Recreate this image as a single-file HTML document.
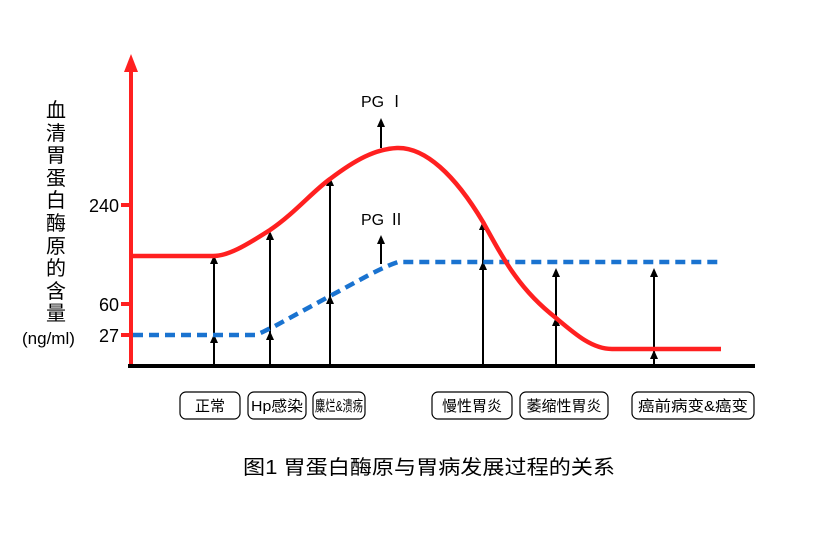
<!DOCTYPE html>
<html><head><meta charset="utf-8"><style>
html,body{margin:0;padding:0;background:#fff;}
svg{display:block;}
text{font-family:"Liberation Sans","Noto Sans CJK SC",sans-serif;fill:#000;}
</style></head><body>
<svg width="825" height="537" viewBox="0 0 825 537" xmlns="http://www.w3.org/2000/svg">
<line x1="131" y1="366" x2="131" y2="70" stroke="#ff2020" stroke-width="4"/>
<polygon points="131,54 124,72 138,72" fill="#ff2020"/>
<line x1="128" y1="366" x2="755" y2="366" stroke="#000" stroke-width="4"/>
<line x1="121" y1="205" x2="131" y2="205" stroke="#ff2020" stroke-width="4"/>
<line x1="121" y1="304" x2="131" y2="304" stroke="#ff2020" stroke-width="4"/>
<line x1="121" y1="335" x2="131" y2="335" stroke="#ff2020" stroke-width="4"/>
<text x="119" y="212" font-size="18" text-anchor="end">240</text>
<text x="119" y="311" font-size="18" text-anchor="end">60</text>
<text x="119" y="342" font-size="18" text-anchor="end">27</text>
<text x="22" y="344" font-size="17">(ng/ml)</text>
<g font-size="20" text-anchor="middle">
<text x="56" y="117">血</text><text x="56" y="140">清</text><text x="56" y="162">胃</text>
<text x="56" y="185">蛋</text><text x="56" y="207">白</text><text x="56" y="230">酶</text>
<text x="56" y="253">原</text><text x="56" y="275">的</text><text x="56" y="298">含</text>
<text x="56" y="320">量</text>
</g>
<g stroke="#000" stroke-width="2" fill="none">
<line x1="214" y1="366" x2="214" y2="260"/>
<line x1="270" y1="366" x2="270" y2="236"/>
<line x1="330" y1="366" x2="330" y2="182"/>
<line x1="381" y1="148" x2="381" y2="123"/>
<line x1="381" y1="264" x2="381" y2="240"/>
<line x1="483" y1="366" x2="483" y2="226"/>
<line x1="556" y1="366" x2="556" y2="272"/>
<line x1="654" y1="366" x2="654" y2="272"/>
</g>
<g fill="#000">
<polygon points="214,255 210,264 218,264"/><polygon points="214,334 210,343 218,343"/>
<polygon points="270,231 266,240 274,240"/><polygon points="270,331 266,340 274,340"/>
<polygon points="330,177 326,186 334,186"/><polygon points="330,295 326,304 334,304"/>
<polygon points="381,118 377,127 385,127"/><polygon points="381,235 377,244 385,244"/>
<polygon points="483,221 479,230 487,230"/><polygon points="483,261 479,270 487,270"/>
<polygon points="556,268 552,277 560,277"/><polygon points="556,317 552,326 560,326"/>
<polygon points="654,268 650,277 658,277"/><polygon points="654,350 650,359 658,359"/>
</g>
<path d="M133,335 L255,335 C262,333 268,329 275,326 L330,296 C360,280 380,268 398,262 L721,262" stroke="#1a73d0" stroke-width="4.5" fill="none" stroke-dasharray="10,6"/>
<path d="M133,256 L213,256 C228,256 245,246 270,230 C295,213 312,192 330,179 C355,160 375,149 397,148 C425,147 455,175 483,222 C505,262 520,290 556,318 C575,334 592,349 612,349 L721,349" stroke="#ff2020" stroke-width="4.5" fill="none"/>
<text x="361" y="107" font-size="16">PG Ⅰ</text>
<text x="361" y="225" font-size="16">PG Ⅱ</text>
<g fill="#fff" stroke="#000" stroke-width="1.2">
<rect x="180" y="392" width="60" height="27" rx="6"/>
<rect x="248" y="392" width="58" height="27" rx="6"/>
<rect x="313" y="392" width="52" height="27" rx="6"/>
<rect x="432" y="392" width="80" height="27" rx="6"/>
<rect x="520" y="392" width="88" height="27" rx="6"/>
<rect x="632" y="392" width="122" height="27" rx="6"/>
</g>
<g font-size="15" text-anchor="middle">
<text x="210" y="411">正常</text>
<text x="277" y="411" textLength="52" lengthAdjust="spacingAndGlyphs">Hp感染</text>
<text x="339" y="411" textLength="48" lengthAdjust="spacingAndGlyphs">麋烂&amp;溃疡</text>
<text x="472" y="411">慢性胃炎</text>
<text x="564" y="411">萎缩性胃炎</text>
<text x="693" y="411" textLength="110" lengthAdjust="spacingAndGlyphs">癌前病变&amp;癌变</text>
</g>
<text x="243" y="474" font-size="20" textLength="372" lengthAdjust="spacingAndGlyphs">图1  胃蛋白酶原与胃病发展过程的关系</text>
</svg>
</body></html>
